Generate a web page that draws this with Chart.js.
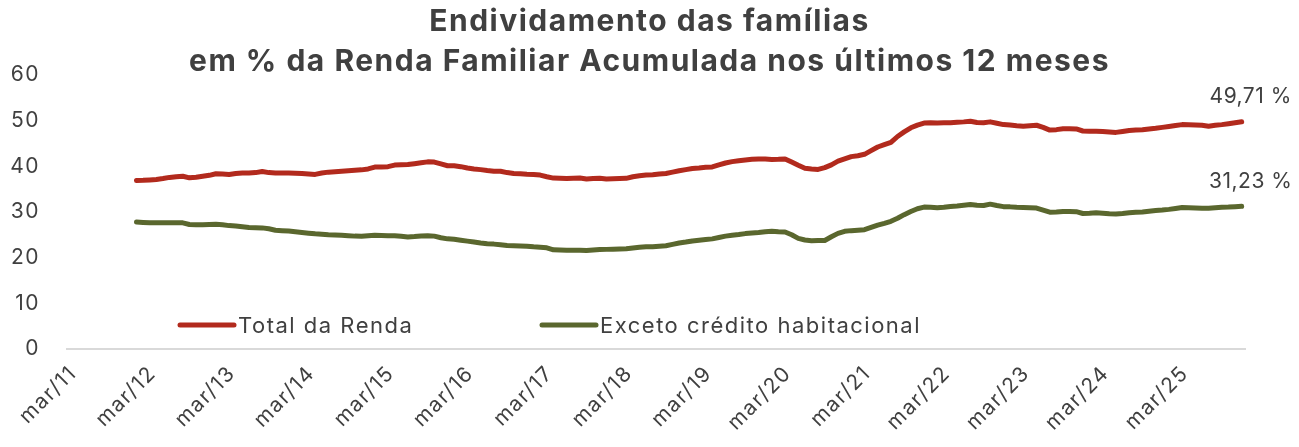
<!DOCTYPE html>
<html>
<head>
<meta charset="utf-8">
<script src="https://cdn.jsdelivr.net/npm/chart.js@4"></script>
<style>
    html, body { margin: 0; padding: 0; background: #ffffff; }
    #wrap { width: 1299px; height: 447px; position: relative; }
</style>
</head>
<body>
<div id="wrap"><canvas id="chart" width="1299" height="447"></canvas></div>
<script>
// Month names and first month on the axis (mar/11)
const monthNames = ['jan', 'fev', 'mar', 'abr', 'mai', 'jun', 'jul', 'ago', 'set', 'out', 'nov', 'dez'];
const axisStart = { year: 2011, month: 2 };
const axisLength = 178;   // mar/11 .. dez/25
const leadingEmpty = 10;  // series starts at jan/12

// Total da Renda, monthly, jan/12 .. dez/25
const totalRenda = [
    36.85, 36.9, 37.0, 37.1, 37.3, 37.55, 37.7, 37.8, 37.45, 37.6, 37.8, 38.0,
    38.35, 38.3, 38.2, 38.4, 38.5, 38.5, 38.6, 38.85, 38.6, 38.5, 38.5, 38.5,
    38.45, 38.4, 38.3, 38.2, 38.5, 38.7, 38.8, 38.9, 39.0, 39.1, 39.2, 39.4,
    39.8, 39.85, 39.9, 40.25, 40.3, 40.35, 40.55, 40.75, 40.95, 40.9, 40.5, 40.1,
    40.1, 39.9, 39.6, 39.4, 39.25, 39.05, 38.9, 38.9, 38.6, 38.4, 38.35, 38.25,
    38.2, 38.05, 37.7, 37.4, 37.35, 37.3, 37.35, 37.4, 37.2, 37.3, 37.35, 37.2,
    37.25, 37.3, 37.35, 37.7, 37.9, 38.05, 38.15, 38.3, 38.4, 38.7, 39.0, 39.25,
    39.5, 39.6, 39.75, 39.85, 40.3, 40.7, 41.0, 41.2, 41.35, 41.5, 41.6, 41.55,
    41.45, 41.5, 41.6, 40.9, 40.2, 39.55, 39.4, 39.3, 39.7, 40.3, 41.1, 41.6,
    42.1, 42.3, 42.6, 43.4, 44.2, 44.7, 45.2, 46.5, 47.5, 48.4, 49.0, 49.45,
    49.5, 49.45, 49.5, 49.5, 49.6, 49.7, 49.85, 49.55, 49.5, 49.7, 49.4, 49.1,
    49.0, 48.85, 48.75, 48.85, 48.96, 48.5, 47.9, 48.0, 48.2, 48.2, 48.15, 47.7,
    47.65, 47.65, 47.6, 47.5, 47.4, 47.6, 47.8, 47.9, 48.0, 48.15, 48.3, 48.5,
    48.7, 48.9, 49.1, 49.05, 49.0, 48.96, 48.75, 48.95, 49.1, 49.3, 49.5, 49.71
];

// Exceto crédito habitacional, monthly, jan/12 .. dez/25
const excetoHabitacional = [
    27.8, 27.7, 27.6, 27.6, 27.65, 27.65, 27.6, 27.6, 27.25, 27.2, 27.2, 27.25,
    27.3, 27.2, 27.0, 26.9, 26.75, 26.6, 26.55, 26.5, 26.3, 26.0, 25.9, 25.8,
    25.65, 25.5, 25.35, 25.2, 25.1, 25.0, 24.95, 24.9, 24.8, 24.7, 24.65, 24.8,
    24.9, 24.85, 24.8, 24.8, 24.65, 24.5, 24.6, 24.75, 24.8, 24.7, 24.35, 24.1,
    24.0, 23.8, 23.6, 23.4, 23.2, 23.05, 22.95, 22.8, 22.65, 22.6, 22.55, 22.5,
    22.35, 22.25, 22.15, 21.7, 21.65, 21.6, 21.6, 21.6, 21.55, 21.65, 21.75, 21.8,
    21.85, 21.9, 21.95, 22.1, 22.25, 22.35, 22.4, 22.5, 22.6, 22.9, 23.2, 23.4,
    23.65, 23.8, 23.95, 24.1, 24.4, 24.7, 24.9, 25.05, 25.25, 25.4, 25.5, 25.65,
    25.75, 25.65, 25.6, 25.0, 24.2, 23.85, 23.7, 23.75, 23.75, 24.55, 25.3, 25.75,
    25.9, 26.0, 26.1, 26.6, 27.1, 27.5, 27.95, 28.6, 29.4, 30.1, 30.7, 31.05,
    31.0, 30.9, 31.0, 31.2, 31.3, 31.45, 31.6, 31.45, 31.4, 31.7, 31.4, 31.15,
    31.1, 31.0, 30.95, 30.9, 30.85, 30.4, 29.95, 30.0, 30.1, 30.1, 30.05, 29.65,
    29.7, 29.8, 29.7, 29.6, 29.55, 29.65, 29.8, 29.9, 30.0, 30.15, 30.3, 30.4,
    30.55, 30.75, 30.95, 30.9, 30.85, 30.8, 30.8, 30.9, 31.0, 31.05, 31.15, 31.23
];

const yTicks = [0, 10, 20, 30, 40, 50, 60];

const categories = [];
for (let i = 0; i < axisLength; i++) {
    const m = axisStart.month + i;
    const yy = (axisStart.year + Math.floor(m / 12)) % 100;
    categories.push(monthNames[m % 12] + '/' + String(yy).padStart(2, '0'));
}

const pad = (arr) => new Array(leadingEmpty).fill(null).concat(arr);

const FONT = "Inter, 'Open Sans', sans-serif";
const TEXT = '#404040';

// wider text overall, the original font runs wide
const spacing = {
    id: 'spacing',
    beforeDraw(chart) {
        chart.ctx.letterSpacing = '1.5px';
    }
};

// legend drawn inside the plot, above the axis line
const innerLegend = {
    id: 'innerLegend',
    afterDraw(chart) {
        const ctx = chart.ctx;
        const spots = [178, 540];
        ctx.save();
        ctx.letterSpacing = '1.5px';
        ctx.font = '22px ' + FONT;
        ctx.textBaseline = 'middle';
        ctx.textAlign = 'left';
        chart.data.datasets.forEach((ds, i) => {
            const x = spots[i], y = 325;
            ctx.strokeStyle = ds.borderColor;
            ctx.lineWidth = 5;
            ctx.lineCap = 'round';
            ctx.beginPath();
            ctx.moveTo(x + 2, y);
            ctx.lineTo(x + 56, y);
            ctx.stroke();
            ctx.fillStyle = TEXT;
            ctx.fillText(ds.label, x + 60, y + 1);
        });
        ctx.restore();
    }
};

// last value printed above the end of each line
const endLabels = {
    id: 'endLabels',
    afterDatasetsDraw(chart) {
        const ctx = chart.ctx;
        ctx.save();
        ctx.letterSpacing = '0.5px';
        ctx.font = '21px ' + FONT;
        ctx.fillStyle = TEXT;
        ctx.textAlign = 'center';
        ctx.textBaseline = 'middle';
        chart.data.datasets.forEach((ds, i) => {
            const meta = chart.getDatasetMeta(i);
            const pt = meta.data[meta.data.length - 1];
            const v = ds.data[ds.data.length - 1];
            ctx.fillText(v.toFixed(2).replace('.', ',') + ' %', pt.x + 9, pt.y - 25);
        });
        ctx.restore();
    }
};

new Chart(document.getElementById('chart'), {
    type: 'line',
    data: {
        labels: categories,
        datasets: [{
            label: 'Total da Renda',
            data: pad(totalRenda),
            borderColor: '#b22a1d',
            borderWidth: 5,
            pointRadius: 0,
            borderCapStyle: 'round',
            borderJoinStyle: 'round',
            tension: 0
        }, {
            label: 'Exceto crédito habitacional',
            data: pad(excetoHabitacional),
            borderColor: '#5a672e',
            borderWidth: 5,
            pointRadius: 0,
            borderCapStyle: 'round',
            borderJoinStyle: 'round',
            tension: 0
        }]
    },
    options: {
        responsive: false,
        animation: false,
        layout: { padding: 0 },
        plugins: {
            legend: { display: false },
            tooltip: { enabled: false },
            title: {
                display: true,
                text: ['Endividamento das famílias', 'em % da Renda Familiar Acumulada nos últimos 12 meses'],
                color: TEXT,
                font: { family: FONT, size: 30, weight: 'bold', lineHeight: 1.33 },
                padding: { top: 2, bottom: -7 }
            }
        },
        scales: {
            x: {
                offset: true,
                grid: { display: false, drawTicks: false },
                border: { display: true, color: '#d9d9d9', width: 2 },
                ticks: {
                    autoSkip: false,
                    maxRotation: 45,
                    minRotation: 45,
                    padding: 12,
                    labelOffset: 3,
                    color: TEXT,
                    font: { family: FONT, size: 21 },
                    callback: (v, i) => (i % 12 === 0 ? categories[i] : '')
                },
                afterFit: (s) => { s.height = 98; }
            },
            y: {
                min: 0,
                max: 60,
                afterBuildTicks: (s) => { s.ticks = yTicks.map(v => ({ value: v })); },
                grid: { display: false, drawTicks: false },
                border: { display: false },
                ticks: {
                    padding: 27,
                    color: TEXT,
                    font: { family: FONT, size: 21 }
                },
                afterFit: (s) => { s.width = 67; }
            },
            // empty right margin, keeps the title centred on the whole canvas
            yRight: {
                position: 'right',
                min: 0,
                max: 60,
                grid: { display: false, drawTicks: false },
                border: { display: false },
                ticks: { display: false },
                afterFit: (s) => { s.width = 54; }
            }
        }
    },
    plugins: [spacing, innerLegend, endLabels]
});
</script>
</body>
</html>
